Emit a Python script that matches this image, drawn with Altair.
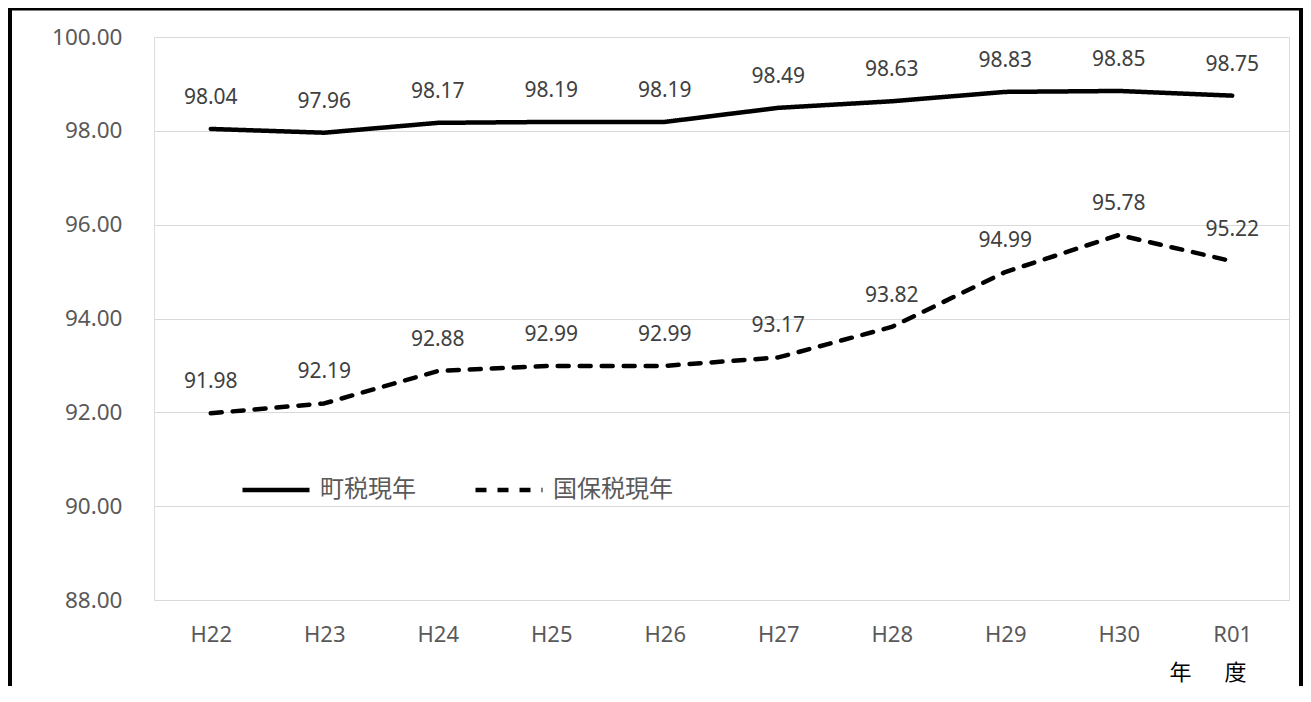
import altair as alt
import pandas as pd

years = ["H22", "H23", "H24", "H25", "H26", "H27", "H28", "H29", "H30", "R01"]
town_tax = [98.04, 97.96, 98.17, 98.19, 98.19, 98.49, 98.63, 98.83, 98.85, 98.75]
kokuho_tax = [91.98, 92.19, 92.88, 92.99, 92.99, 93.17, 93.82, 94.99, 95.78, 95.22]
series_names = ["町税現年", "国保税現年"]

rows = []
for y, a, b in zip(years, town_tax, kokuho_tax):
    rows.append({"year": y, "series": series_names[0], "value": a})
    rows.append({"year": y, "series": series_names[1], "value": b})
df = pd.DataFrame(rows)

FONT = "Noto Sans"
JP = "Noto Sans CJK JP"

x_enc = alt.X("year:N", sort=years,
              scale=alt.Scale(paddingInner=0, paddingOuter=0),
              axis=alt.Axis(title="年\u3000\u2002度", labelAngle=0, labelFont=FONT, labelFontSize=22,
                            labelColor="#595959", labelPadding=24, ticks=False, domain=False,
                            grid=False, titleFont=JP, titleFontSize=22, titleFontWeight="normal",
                            titleColor="#000000", titleX=1092, titleY=72, titleAlign="right",
                            titleBaseline="middle", titleAnchor="end"))
y_enc = alt.Y("value:Q", scale=alt.Scale(domain=[88, 100], nice=False, zero=False),
              axis=alt.Axis(title=None, values=[88, 90, 92, 94, 96, 98, 100], format=".2f",
                            labelFont=FONT, labelFontSize=22.5, labelColor="#595959",
                            labelPadding=32, ticks=False, domain=False, grid=True,
                            gridColor="#d9d9d9", gridWidth=1))

lines = alt.Chart(df).mark_line(strokeWidth=4.5, strokeCap="round", strokeJoin="round",
                                color="black").encode(
    x=x_enc, y=y_enc,
    strokeDash=alt.StrokeDash("series:N",
                              scale=alt.Scale(domain=series_names, range=[[1, 0], [11, 11]]),
                              legend=alt.Legend(title=None, orient="none", direction="horizontal",
                                                legendX=86, legendY=417, padding=0,
                                                symbolType="stroke", symbolSize=4489,
                                                symbolStrokeWidth=4.5, symbolStrokeColor="black",
                                                labelFont=JP, labelFontSize=24,
                                                labelColor="#595959", labelOffset=8,
                                                columnPadding=50)),
    detail="series:N",
)

labels = alt.Chart(df).mark_text(dy=-31, font=FONT, fontSize=21, color="#404040",
                                 baseline="middle").encode(
    x=alt.X("year:N", sort=years), y="value:Q",
    text=alt.Text("value:Q", format=".2f"),
)

frame_df = pd.DataFrame({"k": [0]})
left_b = alt.Chart(frame_df).mark_rule(color="black", strokeWidth=4).encode(
    x=alt.value(-144), y=alt.value(-32), y2=alt.value(649))
top_b = alt.Chart(frame_df).mark_rule(color="black", strokeWidth=3).encode(
    x=alt.value(-146), x2=alt.value(1149), y=alt.value(-28))
right_b = alt.Chart(frame_df).mark_rule(color="black", strokeWidth=4).encode(
    x=alt.value(1147), y=alt.value(-28), y2=alt.value(649))

chart = alt.layer(lines, labels, left_b, top_b, right_b).properties(
    width=1135, height=563,
    autosize=alt.AutoSizeParams(type="none"),
    padding={"left": 146, "top": 29, "right": 14, "bottom": 86},
).configure_view(stroke="#d9d9d9", strokeWidth=1).configure(background="white")

chart.save("out.html", embed_options={"renderer": "svg", "actions": False})
